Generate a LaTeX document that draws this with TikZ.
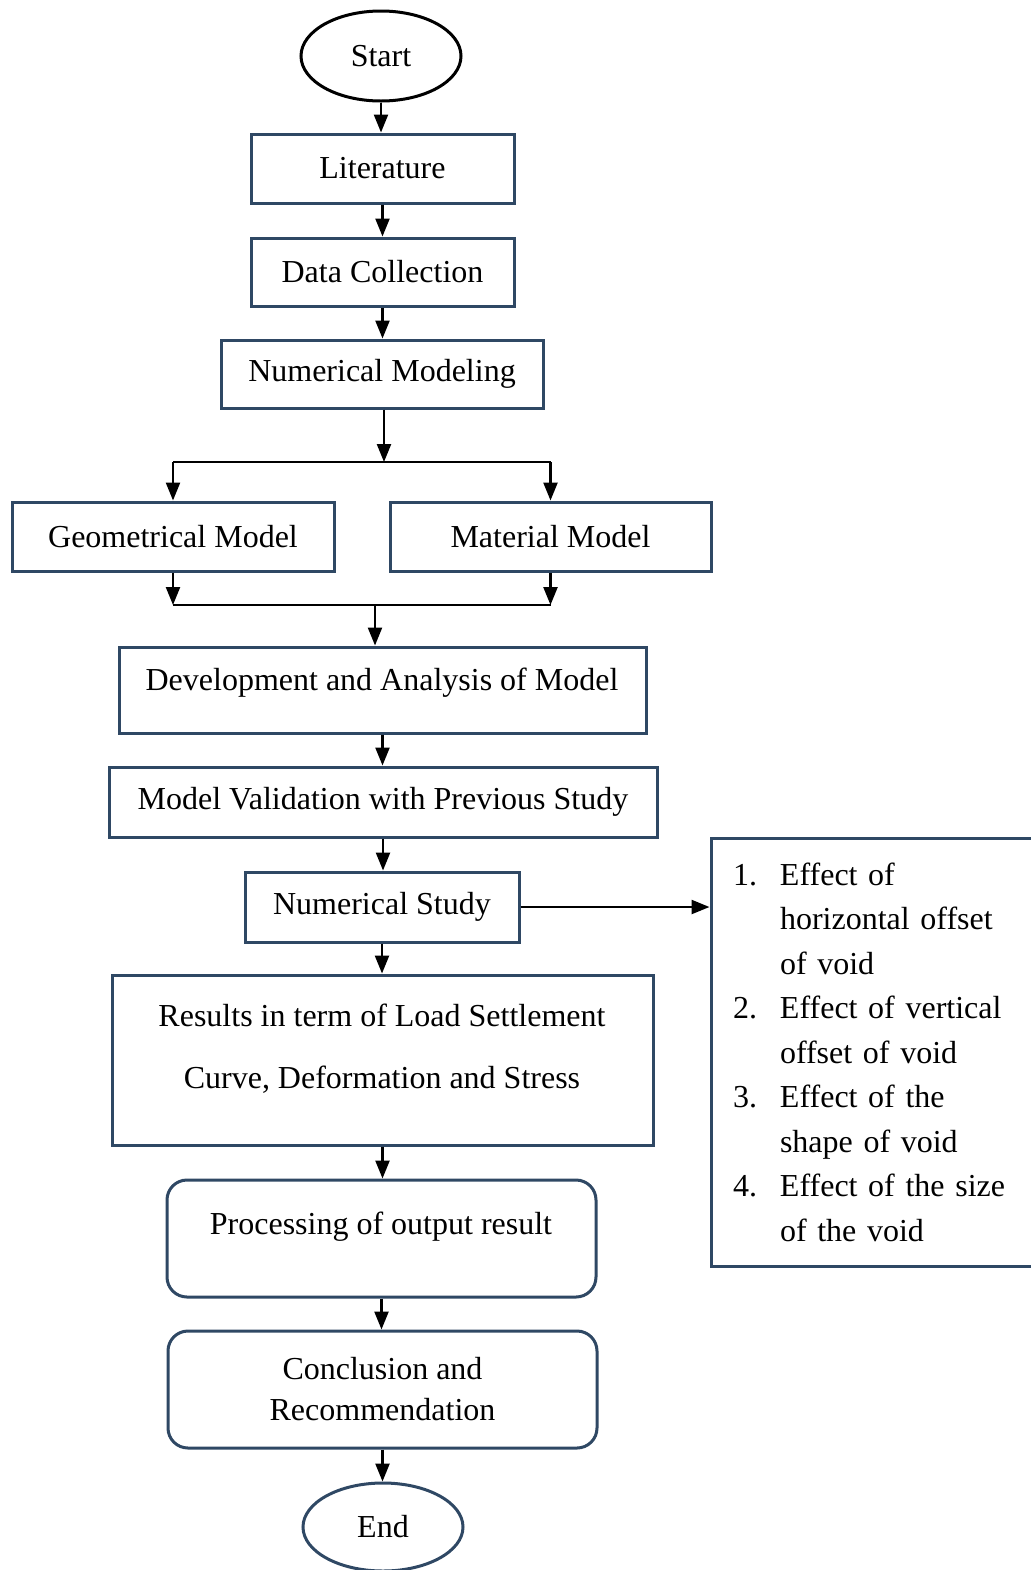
\documentclass[tikz,border=0pt]{standalone}
\usepackage{fontspec}
\setmainfont{Liberation Serif}
\usetikzlibrary{shapes.geometric,arrows.meta}
\definecolor{boxblue}{RGB}{47,72,100}
\newcommand{\itm}[1]{\makebox[23.5pt][l]{#1}}
\newcommand{\ind}{\hspace*{23.5pt}}

\begin{document}
\begin{tikzpicture}[x=0.5pt,y=-0.5pt]
    \tikzstyle{every node}+=[inner sep=0pt, font=\fontsize{16}{19.2}\selectfont]
    \tikzstyle{box}=[draw=boxblue, line width=1.5pt, align=center]
    \tikzstyle{rbox}=[box, rounded corners=10pt]
    \tikzstyle{term}=[ellipse, line width=1.5pt, minimum width=80pt]
    \tikzstyle{arr}=[line width=1.2pt, -{Triangle[length=9pt,width=7pt]}]
    \useasboundingbox (0,0) rectangle (1031,1570);
    % main column
    \node [term, draw=black, minimum height=45pt] (start) at (381,56) {Start};
    \node [box, minimum width=131.5pt, minimum height=34.5pt] (lit) at (382.5,168.5) {Literature};
    \node [box, minimum width=131.5pt, minimum height=34pt] (data) at (382.5,272) {Data Collection};
    \node [box, minimum width=161pt, minimum height=34pt] (nummod) at (382,374) {Numerical Modeling};
    \node [box, minimum width=161pt, minimum height=34.5pt] (geo) at (173,536.5) {Geometrical Model};
    \node [box, minimum width=160.5pt, minimum height=34.5pt] (mat) at (550.5,536.5) {Material Model};
    \node [box, minimum width=263.5pt, minimum height=43pt] (dev) at (382.5,690) {};
    \node (devtxt) at (382,683) {Development and Analysis of Model};
    \node [box, minimum width=274pt, minimum height=35pt] (valid) at (383,802) {Model Validation with Previous Study};
    \node [box, minimum width=137pt, minimum height=35pt] (study) at (382,907) {Numerical Study};
    \node [box, minimum width=270.5pt, minimum height=85pt] (res) at (382.5,1060) {};
    \node [align=center] (restxt) at (382,1049) {Results in term of Load Settlement\\[11.8pt] Curve, Deformation and Stress};
    \node [rbox, minimum width=214.5pt, minimum height=58.5pt] (proc) at (381.5,1238.5) {};
    \node (proctxt) at (381,1227) {Processing of output result};
    \node [rbox, minimum width=214.5pt, minimum height=58.5pt] (concl) at (382.5,1389.5) {Conclusion and\\[1.3pt] Recommendation};
    \node [term, draw=boxblue, minimum height=44pt] (end) at (383,1527) {End};
    % side list
    \node [box, align=left, text width=142.5pt, inner xsep=11pt, minimum height=214pt,
           font=\fontsize{16}{22.25}\selectfont] (effects) at (875.5,1052)
        {\itm{1.}Effect of\\ \ind horizontal offset\\ \ind of void\\
         \itm{2.}Effect of vertical\\ \ind offset of void\\
         \itm{3.}Effect of the\\ \ind shape of void\\
         \itm{4.}Effect of the size\\ \ind of the void};
    % junctions
    \coordinate (split) at (384,462);
    \coordinate (merge) at (375,605);
    % connectors
    \draw [arr] (start.south) -- (start.south |- lit.north);
    \draw [arr] (lit.south) -- (lit.south |- data.north);
    \draw [arr] (data.south) -- (data.south |- nummod.north);
    \draw [arr] (split |- nummod.south) -- (split);
    \draw [line width=1.2pt] (geo.north |- split) -- (mat.north |- split);
    \draw [arr] (geo.north |- split) -- (geo.north);
    \draw [arr] (mat.north |- split) -- (mat.north);
    \draw [arr] (geo.south) -- (geo.south |- merge);
    \draw [arr] (mat.south) -- (mat.south |- merge);
    \draw [line width=1.2pt] (geo.south |- merge) -- (mat.south |- merge);
    \draw [arr] (merge) -- (merge |- dev.north);
    \draw [arr] (dev.south) -- (dev.south |- valid.north);
    \draw [arr] (valid.south) -- (valid.south |- study.north);
    \draw [arr] (study.east) -- (study.east -| effects.west);
    \draw [arr] (study.south) -- (study.south |- res.north);
    \draw [arr] (res.south) -- (res.south |- proc.north);
    \draw [arr] (proc.south) -- (proc.south |- concl.north);
    \draw [arr] (concl.south) -- (concl.south |- end.north);
\end{tikzpicture}
\end{document}
